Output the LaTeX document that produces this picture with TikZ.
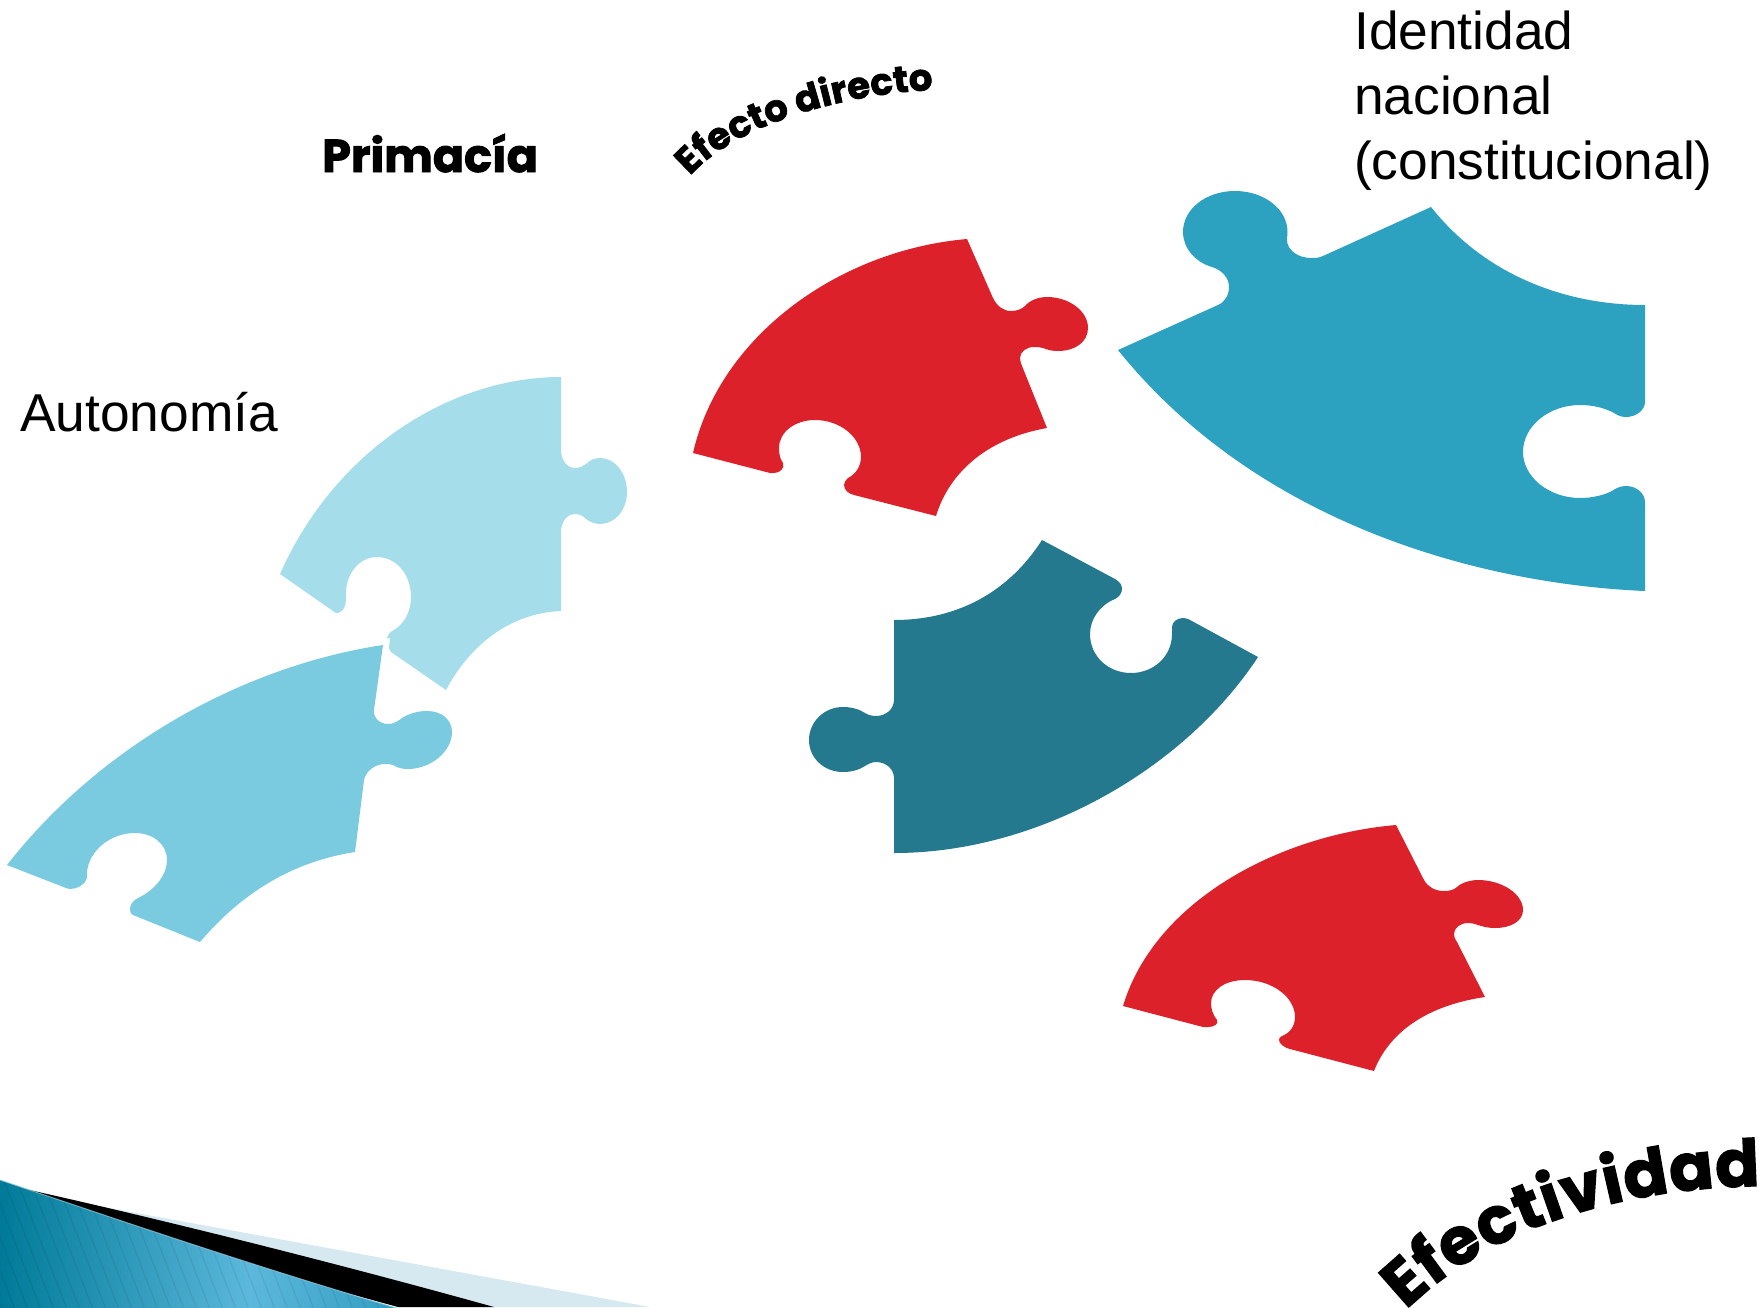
\documentclass[tikz,border=0pt]{standalone}
\usepackage{fontspec}
\usetikzlibrary{decorations.text}
\setmainfont{Liberation Sans}
\newfontfamily\heavy[BoldFeatures={FakeBold=2}]{Poppins}
\definecolor{pcA}{HTML}{A6DDEA}
\definecolor{pcB}{HTML}{7BCBE0}
\definecolor{pcC}{HTML}{DC212B}
\definecolor{pcD}{HTML}{2DA2C0}
\definecolor{pcE}{HTML}{24798F}
\definecolor{bandL}{HTML}{D6E9F1}
\definecolor{waveA}{RGB}{0,122,152}
\definecolor{waveB}{RGB}{92,184,220}
\definecolor{waveC}{RGB}{20,140,175}
\tikzset{
  plain/.style={font=\fontsize{53.3}{64.6}\selectfont,anchor=base west,inner sep=0pt,align=left},
  heavylabel/.style={font=\heavy\bfseries\fontsize{46}{46}\selectfont,anchor=base west,inner sep=0pt}
}
\begin{document}
\begin{tikzpicture}[x=1pt,y=-1pt]
\path[fill=white] (0,0) rectangle (1762,1307);
\useasboundingbox (0,0) rectangle (1762,1307);
% bottom band
\fill[bandL] (60,1199) -- (650,1307) -- (400,1307) -- cycle;
\fill[black] (25,1189) .. controls (120,1210) and (300,1253) .. (494,1307) -- (398,1307) -- (60,1215) -- cycle;
\begin{scope}
\clip (0,1180) .. controls (110,1217) and (250,1265) .. (403,1310) -- (0,1310) -- cycle;
\shade[left color=waveA, right color=waveC, middle color=waveB] (0,1170) rectangle (500,1312);
\foreach \k in {-10,...,40}
  \draw[black,opacity=0.07,line width=1.2pt] (\k*13,1170) -- (\k*13+55,1312);
\end{scope}
\draw[bandL!60!pcD,line width=1pt,opacity=0.7] (0,1180) .. controls (110,1217) and (250,1265) .. (403,1310);
% piece A
\fill[pcA] (280,574) .. controls (335,450) and (450,377) .. (561,377) -- (561,450)
  .. controls (561,460) and (567,468) .. (575,468) .. controls (580,468) and (583,466) .. (586,464)
  .. controls (590,460) and (595,458) .. (600,458) .. controls (615,458) and (627,473) .. (627,492)
  .. controls (627,510) and (615,524) .. (600,524) .. controls (595,524) and (590,522) .. (586,519)
  .. controls (583,516) and (580,514) .. (575,514) .. controls (567,514) and (561,522) .. (561,532)
  -- (561,611) .. controls (510,613) and (470,645) .. (446,690) -- (391,652) -- (389,648) -- (390,638) -- (387,638)
  .. controls (388,635) and (389,633) .. (392,631) .. controls (404,625) and (411,612) .. (411,597)
  .. controls (411,574) and (396,557) .. (377,557) .. controls (359,557) and (346,574) .. (346,593)
  -- (346,600) .. controls (346,607) and (342,613) .. (337,613) .. controls (335,613) and (334,612) .. (333,611)
  -- cycle;
% piece B
\fill[pcB] (7,865) .. controls (105,740) and (250,665) .. (383,645) -- (374,710)
  .. controls (373,718) and (380,724) .. (388,724) .. controls (394,724) and (398,721) .. (402,718)
  .. controls (410,713) and (419,711) .. (427,711) .. controls (442,711) and (452,720) .. (452,732)
  .. controls (452,752) and (430,769) .. (408,769) .. controls (402,769) and (398,768) .. (393,765)
  .. controls (390,764) and (388,764) .. (385,764) .. controls (375,764) and (366,771) .. (364,780)
  -- (355,852) .. controls (290,862) and (240,895) .. (200,942) -- (133,915)
  .. controls (130,914) and (130,910) .. (130,908) .. controls (131,903) and (134,900) .. (138,898)
  .. controls (155,890) and (167,875) .. (167,860) .. controls (167,844) and (153,833) .. (135,833)
  .. controls (110,833) and (89,851) .. (87,872) .. controls (87,874) and (87,876) .. (87,878)
  .. controls (85,885) and (77,889) .. (70,889) .. controls (68,889) and (67,888) .. (66,888)
  -- cycle;
% piece C
\fill[pcC] (693,453) .. controls (720,335) and (840,250) .. (967,239) -- (993,298)
  .. controls (997,306) and (1003,311) .. (1011,311) .. controls (1017,311) and (1022,309) .. (1025,306)
  .. controls (1030,300) and (1039,297) .. (1047,297) .. controls (1069,297) and (1088,311) .. (1088,328)
  .. controls (1088,342) and (1075,351) .. (1058,351) .. controls (1052,351) and (1048,350) .. (1043,348)
  .. controls (1040,347) and (1037,347) .. (1034,347) .. controls (1026,347) and (1020,352) .. (1020,358)
  .. controls (1020,361) and (1021,363) .. (1022,366)
  -- (1047,428) .. controls (990,438) and (950,470) .. (936,516) -- (854,495)
  .. controls (849,494) and (844,490) .. (844,485) .. controls (844,482) and (846,480) .. (848,478)
  .. controls (856,474) and (861,466) .. (861,457) .. controls (861,437) and (840,420) .. (815,420)
  .. controls (795,420) and (779,432) .. (779,448) .. controls (779,454) and (780,459) .. (783,463)
  .. controls (785,468) and (780,473) .. (774,473) .. controls (772,473) and (771,473) .. (770,473)
  -- cycle;
% piece D
\fill[pcD] (1118,350) -- (1218,305)
  .. controls (1225,302) and (1229,295) .. (1229,287) .. controls (1229,278) and (1222,270) .. (1212,267)
  .. controls (1195,262) and (1183,248) .. (1183,232) .. controls (1183,209) and (1206,191) .. (1235,191)
  .. controls (1264,191) and (1287.5,209) .. (1287.5,232) .. controls (1287.5,235) and (1287,237) .. (1287,240)
  .. controls (1287,250) and (1298,258) .. (1311,258) .. controls (1315,258) and (1319,258) .. (1323,256)
  -- (1431,207) .. controls (1485,275) and (1565,305) .. (1645,305) -- (1645,402)
  .. controls (1645,410) and (1636,417) .. (1626,417) .. controls (1621,417) and (1617,415) .. (1614,413)
  .. controls (1605,408) and (1593,405) .. (1580,405) .. controls (1549,405) and (1523,426) .. (1523,452)
  .. controls (1523,477) and (1549,498) .. (1580,498) .. controls (1593,498) and (1604,495) .. (1612,491)
  .. controls (1616,488) and (1621,486) .. (1626,486) .. controls (1636,486) and (1645,493) .. (1645,502)
  -- (1645,591) .. controls (1480,584) and (1258,524) .. (1118,350) -- cycle;
% piece E
\fill[pcE] (894,620) .. controls (960,620) and (1010,590) .. (1042,540) -- (1115,579)
  .. controls (1120,582) and (1122,585) .. (1122,589) .. controls (1122,593) and (1119,597) .. (1115,599)
  .. controls (1100,605) and (1090,619) .. (1090,634) .. controls (1090,656) and (1108,673) .. (1131,673)
  .. controls (1154,673) and (1172,656) .. (1172,634) .. controls (1172,632) and (1172,630) .. (1172,627)
  .. controls (1172,622) and (1177,618) .. (1183,618) .. controls (1186,618) and (1188,619) .. (1190,620)
  -- (1258,657) .. controls (1185,768) and (1040,853) .. (894,853) -- (894,778)
  .. controls (894,769) and (886,762) .. (876,762) .. controls (872,762) and (868,764) .. (865,766)
  .. controls (859,770) and (851,772) .. (843,772) .. controls (824,772) and (809,758) .. (809,740)
  .. controls (809,722) and (824,707) .. (843,707) .. controls (851,707) and (859,709) .. (865,713)
  .. controls (868,715) and (872,716) .. (876,716) .. controls (886,716) and (894,709) .. (894,700)
  -- cycle;
% piece F
\fill[pcC] (1123,1006) .. controls (1155,900) and (1280,835) .. (1396,825) -- (1424,880)
  .. controls (1428,887) and (1435,891) .. (1444,891) .. controls (1449,891) and (1454,890) .. (1457,887)
  .. controls (1461,883) and (1470,880) .. (1478,880) .. controls (1502,880) and (1523,894) .. (1523,910)
  .. controls (1523,921) and (1511,928) .. (1495,928) .. controls (1489,928) and (1484,927) .. (1478,925)
  .. controls (1475,924) and (1472,923) .. (1468,923) .. controls (1460,923) and (1454,928) .. (1454,934)
  .. controls (1454,937) and (1455,939) .. (1457,942)
  -- (1485,997) .. controls (1430,1005) and (1390,1030) .. (1374,1071) -- (1290,1049)
  .. controls (1285,1048) and (1279,1044) .. (1279,1040) .. controls (1279,1038) and (1280,1037) .. (1282,1036)
  .. controls (1290,1033) and (1295,1026) .. (1295,1017) .. controls (1295,997) and (1272,980) .. (1245,980)
  .. controls (1225,980) and (1211,990) .. (1211,1003) .. controls (1211,1009) and (1213,1015) .. (1217,1020)
  .. controls (1219,1024) and (1214,1027) .. (1208,1027) .. controls (1206,1027) and (1204,1027) .. (1203,1027)
  -- cycle;
% texts
\node[plain] (autonomia) at (20,431) {Autonomía};
\node[plain] (identidad) at (1354,179) {Identidad\\nacional\\(constitucional)};
\node[heavylabel] (primacia) at (322,172) {Primacía};
\path[decorate,decoration={text along path,text align={fit to path},
   text={|\heavy\bfseries\fontsize{37}{37}\selectfont|Efecto directo}}]
   (690,176) .. controls (730,130) and (830,95) .. (933,90);
\path[decorate,decoration={text along path,text align={fit to path},
   text={|\heavy\bfseries\fontsize{65}{65}\selectfont|Efectividad}}]
   (1406,1310) .. controls (1490,1228) and (1620,1188) .. (1760,1186);
\end{tikzpicture}
\end{document}
